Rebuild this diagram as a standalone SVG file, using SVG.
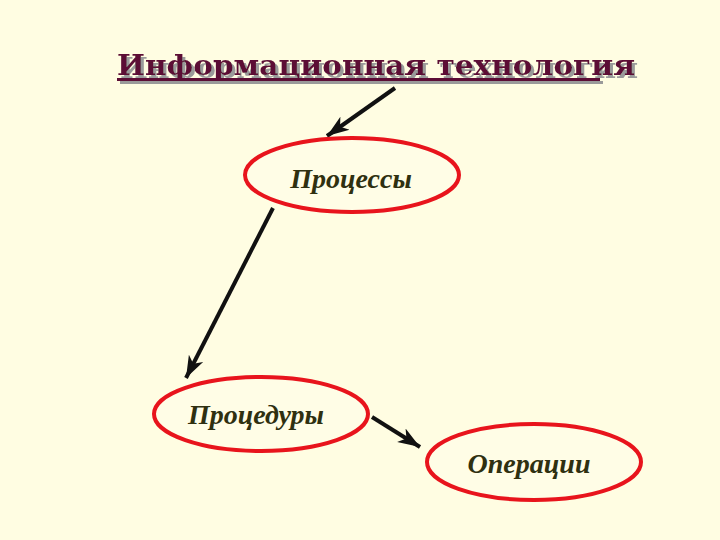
<svg xmlns="http://www.w3.org/2000/svg" width="720" height="540" viewBox="0 0 720 540">
<defs>
<style>
.title{font-family:"DejaVu Serif","Liberation Serif",serif;font-weight:bold;font-size:28px;fill:#5c0f35;}
.node ellipse{fill:#fffde6;stroke:#e8141c;stroke-width:4;}
.node text{font-family:"Liberation Serif",serif;font-style:italic;font-weight:bold;font-size:28px;fill:#2f3010;text-anchor:middle;}
.conn line{stroke:#111111;stroke-width:4;marker-end:url(#ah);}
</style>
<filter id="sh" x="-5%" y="-30%" width="110%" height="160%">
<feOffset in="SourceAlpha" dx="2.5" dy="2.5" result="o"/>
<feFlood flood-color="#9a9a9a"/>
<feComposite in2="o" operator="in" result="s"/>
<feMerge><feMergeNode in="s"/><feMergeNode in="SourceGraphic"/></feMerge>
</filter>
<marker id="ah" markerUnits="userSpaceOnUse" markerWidth="24" markerHeight="20" viewBox="0 0 24 20" refX="22" refY="10" orient="auto">
<path d="M0,2 L22,10 L0,18 L6,10 Z" fill="#111111"/>
</marker>
</defs>
<rect width="720" height="540" fill="#fffde2"/>
<g id="title" filter="url(#sh)">
<text class="title" x="117" y="75" textLength="518" lengthAdjust="spacingAndGlyphs">Информационная технология</text>
<line x1="117" y1="79.5" x2="600" y2="79.5" stroke="#5c0f35" stroke-width="3"/>
</g>
<g id="conn" class="conn">
<line x1="395" y1="88" x2="327" y2="136"/>
<line x1="273" y1="208" x2="186" y2="378"/>
<line x1="372" y1="417" x2="420" y2="447"/>
</g>
<g id="node-processes" class="node">
<ellipse cx="352" cy="175" rx="107" ry="37"/>
<text x="351" y="188">Процессы</text>
</g>
<g id="node-procedures" class="node">
<ellipse cx="261" cy="414" rx="107" ry="37"/>
<text x="256" y="424">Процедуры</text>
</g>
<g id="node-operations" class="node">
<ellipse cx="534" cy="462" rx="107" ry="38"/>
<text x="529" y="473">Операции</text>
</g>
</svg>
